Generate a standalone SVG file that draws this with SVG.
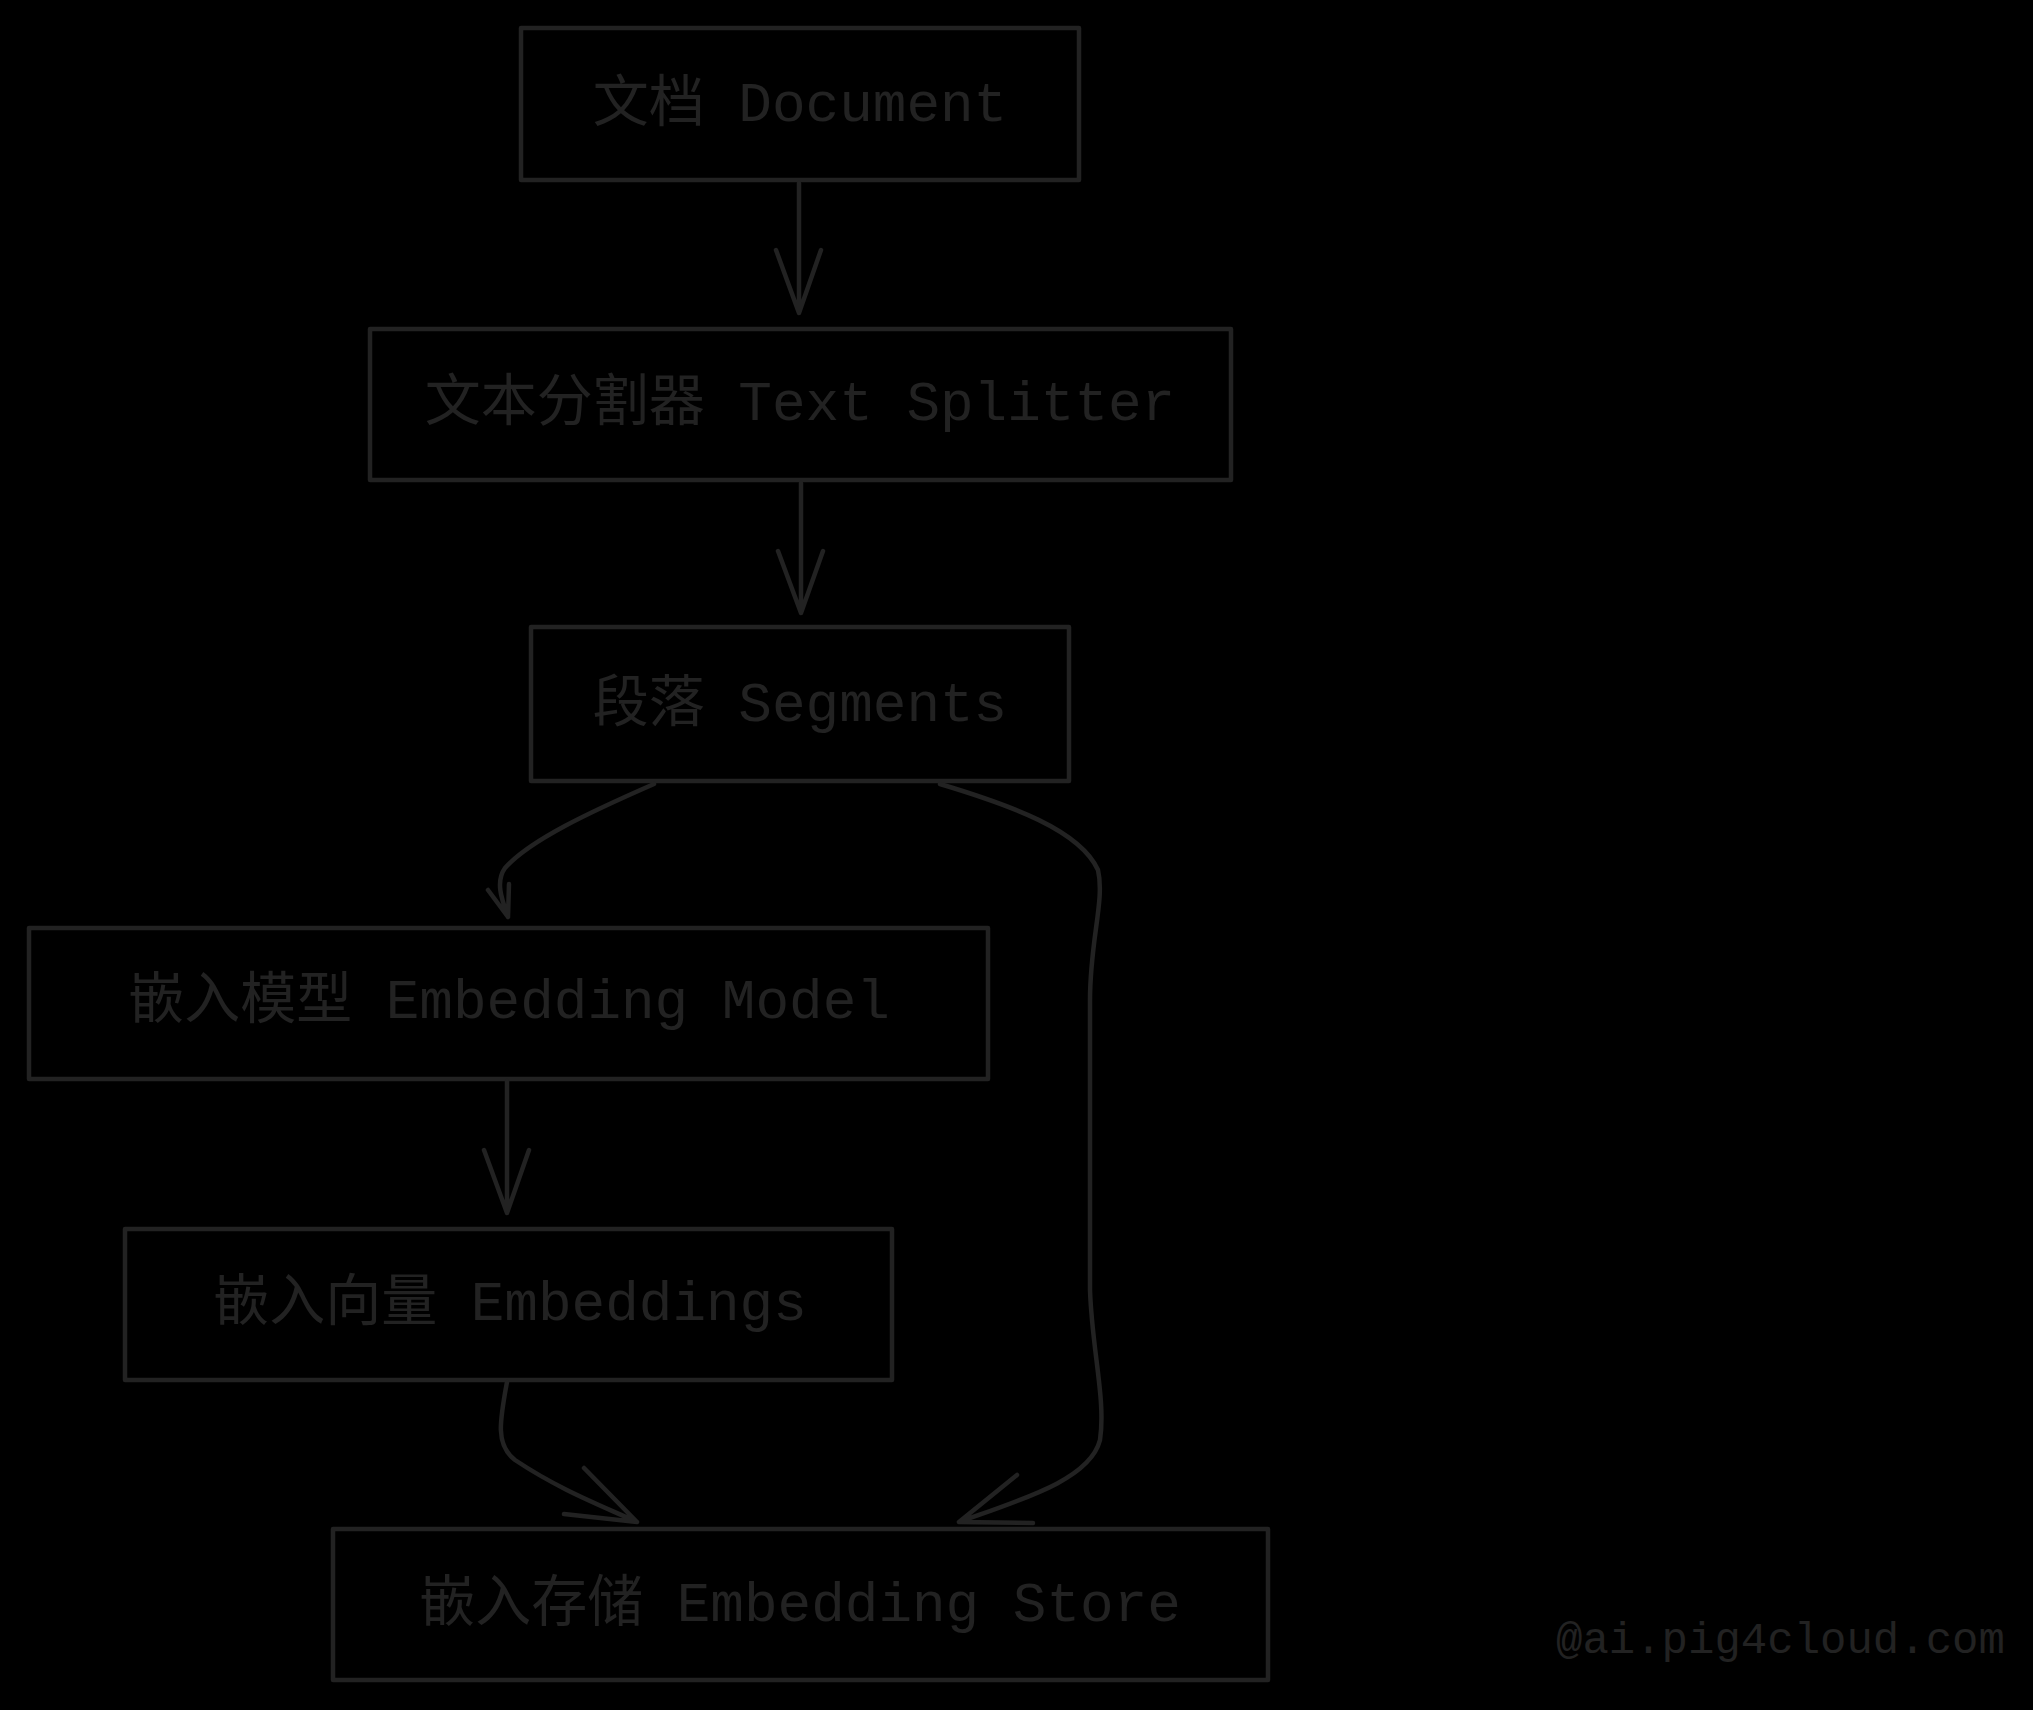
<svg xmlns="http://www.w3.org/2000/svg" width="2033" height="1710" viewBox="0 0 2033 1710">
<style>
.box{fill:none;stroke:#222;stroke-width:4.5;stroke-linejoin:round}
.lbl{font-family:"Liberation Mono","Noto Sans CJK SC",monospace;font-size:56px;fill:#222;text-anchor:middle}
.edge{fill:none;stroke:#222;stroke-width:4.5;stroke-linecap:round;stroke-linejoin:round}
.wm{font-family:"Liberation Mono",monospace;font-size:44px;fill:#222}
</style>
<rect width="2033" height="1710" fill="#000"/>
<g id="n-document"><rect class="box" x="521" y="28" width="558" height="152"/><text class="lbl" x="800" y="121">文档 Document</text></g>
<g id="n-splitter"><rect class="box" x="370" y="329" width="861" height="151"/><text class="lbl" x="800" y="420">文本分割器 Text Splitter</text></g>
<g id="n-segments"><rect class="box" x="531" y="627" width="538" height="154"/><text class="lbl" x="800" y="721">段落 Segments</text></g>
<g id="n-model"><rect class="box" x="29" y="928" width="959" height="151"/><text class="lbl" x="509" y="1018">嵌入模型 Embedding Model</text></g>
<g id="n-embeddings"><rect class="box" x="125" y="1229" width="767" height="151"/><text class="lbl" x="510" y="1320">嵌入向量 Embeddings</text></g>
<g id="n-store"><rect class="box" x="333" y="1529" width="935" height="151"/><text class="lbl" x="800" y="1621">嵌入存储 Embedding Store</text></g>
<g id="connectors">
<path class="edge" d="M799 183 L799 313 M776 250 L799 313 L821 250"/>
<path class="edge" d="M801 483 L801 613 M778 551 L801 613 L823 551"/>
<path class="edge" d="M654 784 C590 812 530 840 505 868 C495 882 502 900 508 917 M488 890 L508 917 L509 884"/>
<path class="edge" d="M507 1081 L507 1213 M484 1150 L507 1213 L529 1150"/>
<path class="edge" d="M507 1382 C500 1420 495 1445 515 1460 C560 1490 600 1505 637 1522 M584 1468 L637 1522 L564 1514"/>
<path class="edge" d="M940 784 C1010 805 1080 830 1098 870 C1105 900 1090 940 1090 1000 L1090 1290 C1092 1350 1106 1400 1100 1440 C1090 1480 1020 1500 959 1522 M1017 1475 L959 1522 L1033 1523"/>
</g>
<text class="wm" x="1556" y="1653">@ai.pig4cloud.com</text>
</svg>
